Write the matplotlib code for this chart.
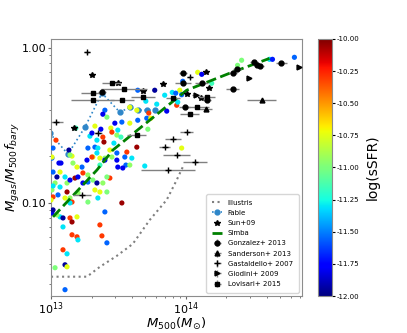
import numpy as np
import matplotlib
matplotlib.use("Agg")
import matplotlib.pyplot as plt
from matplotlib.ticker import FormatStrFormatter, NullFormatter

# ---------------- data (log10 values) ----------------
# simulated clusters coloured by log(sSFR)
sim_logm = [13.40, 13.385, 13.415, 13.474, 13.526, 13.585, 13.644, 13.637, 13.585, 13.726,
            13.711, 13.741, 13.719, 13.859, 13.933, 13.941, 13.770, 13.644, 13.704, 13.785,
            13.844, 13.956, 13.970, 13.185, 13.133, 13.156, 13.289, 13.326, 13.370, 13.304,
            13.385, 13.393, 13.341, 13.444, 13.452, 13.489, 13.519, 13.496, 13.467, 13.563,
            13.637, 13.600, 13.556, 13.489, 13.437, 13.400, 13.311, 13.274, 13.326, 13.348,
            13.074, 13.007, 13.363, 13.696, 13.141, 13.341, 13.267, 13.496, 13.533, 13.585,
            13.452, 13.015, 13.067, 13.104, 13.044, 13.030, 13.007, 13.067, 13.119, 13.141,
            13.178, 13.200, 13.237, 13.230, 13.193, 13.163, 13.237, 13.274, 13.274, 13.311,
            13.341, 13.385, 13.437, 13.415, 13.326, 13.363, 13.415, 13.119, 13.141, 13.104,
            13.052, 13.015, 13.200, 13.156, 13.141, 13.274, 13.348, 13.007, 13.015, 13.067,
            13.089, 13.044, 13.141, 13.156, 13.089, 13.193, 13.400, 13.526, 13.363, 13.156,
            13.193, 13.200, 13.378, 13.415, 13.089, 13.119, 13.104, 13.119, 13.030, 13.104,
            14.089, 14.119, 14.193, 13.978, 14.415, 14.385, 14.622, 14.644, 14.807, 13.007,
            13.304, 13.363, 13.400, 13.548, 13.489, 13.000, 13.037, 13.015, 13.059, 13.015,
            13.970, 13.900, 13.926]
sim_logf = [-0.400, -0.426, -0.445, -0.484, -0.477, -0.484, -0.465, -0.400, -0.381, -0.419,
            -0.452, -0.452, -0.523, -0.406, -0.368, -0.348, -0.271, -0.271, -0.342, -0.361,
            -0.303, -0.271, -0.645, -0.516, -0.658, -0.697, -0.568, -0.503, -0.523, -0.548,
            -0.574, -0.606, -0.594, -0.516, -0.542, -0.561, -0.574, -0.529, -0.613, -0.671,
            -0.639, -0.710, -0.755, -0.723, -0.658, -0.710, -0.703, -0.645, -0.639, -0.645,
            -0.742, -0.710, -0.755, -0.761, -0.690, -0.677, -0.723, -0.768, -0.774, -0.755,
            -0.703, -0.800, -0.800, -0.832, -0.832, -0.871, -0.916, -0.897, -0.871, -0.852,
            -0.839, -0.832, -0.806, -0.768, -0.768, -0.742, -0.871, -0.865, -0.819, -0.852,
            -0.871, -0.871, -0.839, -0.832, -0.916, -0.929, -0.929, -0.929, -0.968, -0.968,
            -0.948, -0.961, -0.935, -0.994, -1.000, -0.994, -0.968, -1.065, -1.045, -1.090,
            -1.097, -1.077, -1.097, -1.123, -1.155, -1.090, -1.058, -1.000, -1.142, -1.206,
            -1.219, -1.239, -1.213, -1.258, -1.303, -1.329, -1.400, -1.413, -1.419, -1.561,
            -0.155, -0.168, -0.226, -0.213, -0.077, -0.110, -0.071, -0.071, -0.058, -0.703,
            -0.703, -0.710, -0.723, -0.703, -0.677, -0.981, -0.594, -0.645, -0.742, -0.890,
            -0.300, -0.285, -0.290]
sim_ssfr = [-11.55, -11.80, -11.00, -11.80, -11.55, -10.75, -11.55, -10.75, -10.75, -10.30,
            -11.55, -10.70, -11.00, -11.80, -10.30, -11.30, -11.95, -11.55, -11.30, -11.30,
            -11.30, -10.75, -10.75, -11.15, -11.95, -10.75, -11.30, -10.75, -11.80, -11.80,
            -10.30, -10.05, -11.30, -10.75, -10.30, -10.95, -11.15, -11.30, -11.30, -10.30,
            -10.05, -11.30, -11.55, -11.80, -10.75, -10.95, -10.75, -11.55, -11.55, -11.30,
            -11.80, -11.55, -11.15, -11.30, -10.95, -11.30, -11.80, -11.80, -11.80, -10.95,
            -10.95, -11.55, -10.75, -11.30, -11.95, -10.95, -10.95, -11.30, -10.95, -11.80,
            -10.05, -11.80, -10.30, -11.55, -10.75, -10.95, -11.80, -11.55, -10.95, -11.00,
            -11.95, -10.95, -10.30, -11.00, -10.75, -10.75, -11.00, -10.05, -10.95, -10.75,
            -11.55, -10.30, -10.95, -10.30, -11.30, -11.00, -11.30, -11.80, -11.95, -11.30,
            -11.95, -10.95, -10.30, -10.05, -11.30, -10.75, -11.55, -10.05, -10.30, -10.30,
            -10.30, -11.30, -10.30, -11.55, -10.30, -11.30, -11.95, -10.75, -11.00, -11.55,
            -10.75, -11.80, -11.15, -11.55, -11.00, -11.00, -11.30, -11.70, -11.55, -10.75,
            -10.30, -10.75, -11.80, -11.55, -11.55, -10.75, -10.30, -11.55, -11.80, -11.30,
            -11.55, -11.30, -11.55]

illustris_logm = [13.00, 13.267, 13.363, 13.489, 13.607, 13.733, 13.859, 13.933, 13.978]
illustris_logf = [-1.477, -1.477, -1.413, -1.342, -1.265, -1.110, -0.980, -0.852, -0.768]

fable_logm = [12.99, 13.126, 13.252, 13.378, 13.511, 13.585, 13.644, 13.711, 13.770]
fable_logf = [-0.548, -0.684, -0.510, -0.290, -0.413, -0.381, -0.400, -0.400, -0.400]

simba_logm = [13.015, 13.341, 13.459, 14.007, 14.326, 14.622]
simba_logf = [-1.090, -0.787, -0.658, -0.271, -0.161, -0.065]

sun_logm = [13.304, 13.496, 13.681, 13.830, 13.170, 14.148, 14.170, 14.007, 14.111]
sun_logf = [-0.174, -0.226, -0.277, -0.232, -0.516, -0.155, -0.258, -0.297, -0.323]

gon_logm = [13.378, 13.978, 13.993, 14.119, 14.348, 14.378, 14.348, 14.504, 14.533, 14.548, 14.711, 14.156, 13.978]
gon_logf = [-0.284, -0.161, -0.381, -0.226, -0.161, -0.135, -0.265, -0.090, -0.110, -0.116, -0.097, -0.335, -0.226]
gon_dlogm = [0.03, 0.03, 0.04, 0.05, 0.03, 0.03, 0.05, 0.03, 0.03, 0.03, 0.04, 0.03, 0.06]

san_logm = [14.148, 14.563]
san_logf = [-0.394, -0.335]
san_dlogm = [0.05, 0.11]

gas_logm = [13.267, 13.037, 13.348, 13.904, 13.844, 14.007, 14.030, 13.230, 13.933, 13.867, 14.067]
gas_logf = [-0.026, -0.477, -0.548, -0.587, -0.639, -0.542, -0.187, -0.948, -0.690, -0.787, -0.735]
gas_dlogm = [0.02, 0.05, 0.03, 0.06, 0.04, 0.05, 0.02, 0.07, 0.10, 0.20, 0.09]

gio_logm = [14.074, 14.467, 14.844]
gio_logf = [-0.303, -0.194, -0.123]
gio_dlogm = [0.03, 0.02, 0.02]

lov_logm = [13.452, 13.541, 13.311, 13.311, 13.526, 13.681, 13.637, 14.156, 14.081, 14.030, 13.904]
lov_logf = [-0.226, -0.265, -0.290, -0.335, -0.335, -0.316, -0.561, -0.316, -0.381, -0.426, -0.323]
lov_dlogm = [0.07, 0.17, 0.09, 0.16, 0.09, 0.09, 0.07, 0.06, 0.09, 0.07, 0.05]

cbar_ticks = [-10.00, -10.25, -10.50, -10.75, -11.00, -11.25, -11.50, -11.75, -12.00]

# ---------------- figure ----------------
fig = plt.figure(figsize=(4.07, 3.33), dpi=100)
ax = fig.add_axes([0.1253, 0.111, 0.6167, 0.772])
cax = fig.add_axes([0.781, 0.111, 0.035, 0.772])

def lin(a):
    return 10.0 ** np.asarray(a)

sc = ax.scatter(lin(sim_logm), lin(sim_logf), c=sim_ssfr, cmap='jet', vmin=-12, vmax=-10,
                s=14, zorder=3, linewidths=0)

ax.plot(lin(illustris_logm), lin(illustris_logf), ls=':', color='grey', lw=1.5, label='Illustris', zorder=2)
ax.plot(lin(fable_logm), lin(fable_logf), ls=':', color='#2e86c9', lw=1.2, marker='o', ms=3.5,
        label='Fable', zorder=2)
ax.plot([], [], ls='none', marker='*', color='k', ms=4, label='Sun+09')
ax.plot(lin(simba_logm), lin(simba_logf), ls='--', color='green', lw=2, label='Simba', zorder=4)
ax.plot(lin(sun_logm), lin(sun_logf), ls='none', marker='*', color='k', ms=4, zorder=5)

def obs(lm, lf, dlm, marker, label, ms=3.5):
    m = lin(lm)
    lo = m - lin(np.asarray(lm) - np.asarray(dlm))
    hi = lin(np.asarray(lm) + np.asarray(dlm)) - m
    f = lin(lf)
    ax.errorbar(m, f, xerr=[lo, hi], yerr=0.02 * f, fmt=marker, color='k', ecolor='grey',
                elinewidth=1, ms=ms, label=label, zorder=5)

obs(gon_logm, gon_logf, gon_dlogm, 'o', 'Gonzalez+ 2013')
obs(san_logm, san_logf, san_dlogm, '^', 'Sanderson+ 2013')
obs(gas_logm, gas_logf, gas_dlogm, '+', 'Gastaldello+ 2007', ms=4)
obs(gio_logm, gio_logf, gio_dlogm, '>', 'Giodini+ 2009')
obs(lov_logm, lov_logf, lov_dlogm, 's', 'Lovisari+ 2015')

ax.set_xscale('log')
ax.set_yscale('log')
ax.set_xlim(1e13, 7.3e14)
ax.set_ylim(0.025, 1.15)
ax.yaxis.set_major_formatter(FormatStrFormatter('%.2f'))
ax.yaxis.set_minor_formatter(NullFormatter())
ax.tick_params(which='major', labelsize=8, pad=1, length=2.5)
ax.tick_params(which='minor', length=1.5)
for sp in ax.spines.values():
    sp.set_color('0.55')
ax.tick_params(which='both', color='0.4')

ax.set_xlabel(r'$M_{500}(M_{\odot})$', fontsize=9.5)
ax.set_ylabel(r'$M_{gas}/M_{500}f_{bary}$', fontsize=9.5)
ax.xaxis.set_label_coords(0.5, -0.078)
ax.yaxis.set_label_coords(-0.115, 0.5)

leg = ax.legend(loc='lower right', fontsize=5, frameon=True, borderpad=0.8, labelspacing=0.6,
                handlelength=1.5)

cb = fig.colorbar(sc, cax=cax, ticks=cbar_ticks)
cb.ax.tick_params(labelsize=5, length=2.5, pad=1)
cb.ax.yaxis.set_major_formatter(FormatStrFormatter('%.2f'))
cb.outline.set_edgecolor('0.55')
cb.set_label('log(sSFR)', fontsize=10)

fig.savefig('out.png', dpi=100)
